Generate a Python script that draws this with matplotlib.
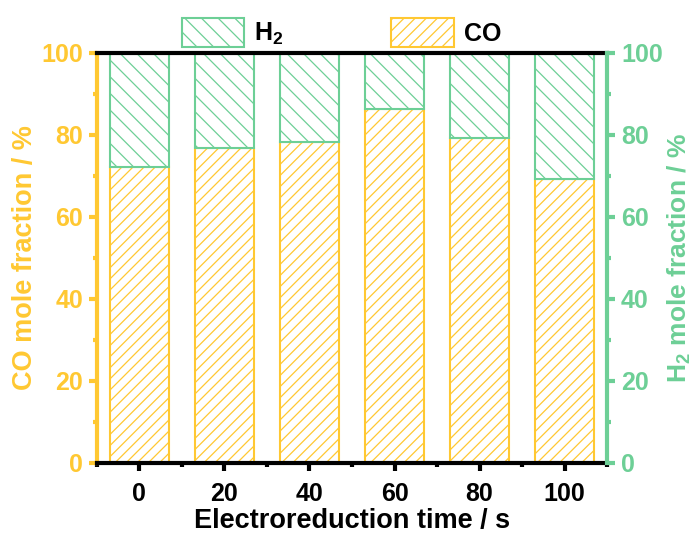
import matplotlib
matplotlib.use("Agg")
import matplotlib.pyplot as plt
from matplotlib.ticker import MultipleLocator
from matplotlib.patches import Patch

plt.rcParams['font.family'] = ['Liberation Sans', 'DejaVu Sans']
plt.rcParams['font.weight'] = 'bold'
plt.rcParams['hatch.linewidth'] = 0.9
plt.rcParams['mathtext.default'] = 'bf'
plt.rcParams['mathtext.fontset'] = 'custom'
plt.rcParams['mathtext.bf'] = 'Liberation Sans:bold'

times = [0, 20, 40, 60, 80, 100]
co_frac = [72.3, 76.8, 78.2, 86.3, 79.2, 69.2]
h2_frac = [100 - v for v in co_frac]

yellow = '#FFC832'
green = '#6DCF96'

fig = plt.figure(figsize=(6.97, 5.35), dpi=100)
ax = fig.add_axes([0.139, 0.1346, 0.732, 0.7664])

w = 14
ax.bar(times, co_frac, width=w, color='white', edgecolor=yellow, hatch='///', linewidth=1.5)
ax.bar(times, h2_frac, width=w, bottom=co_frac, color='white', edgecolor=green, hatch='\\\\', linewidth=1.5)

ax.set_xlim(-10, 110)
ax.set_ylim(0, 100)
ax.set_xticks(times)
ax.xaxis.set_minor_locator(MultipleLocator(10))
ax.yaxis.set_major_locator(MultipleLocator(20))
ax.yaxis.set_minor_locator(MultipleLocator(10))

for side in ['top', 'bottom']:
    ax.spines[side].set_color('black')
    ax.spines[side].set_linewidth(3)
ax.spines['left'].set_color(yellow)
ax.spines['left'].set_linewidth(3)
ax.spines['right'].set_visible(False)

ax.tick_params(axis='x', which='major', direction='out', length=6, width=3, labelsize=18, pad=8)
ax.tick_params(axis='x', which='minor', direction='out', length=3, width=3)
ax.tick_params(axis='y', which='major', direction='out', length=6, width=3, colors=yellow, labelsize=18, pad=4)
ax.tick_params(axis='y', which='minor', direction='out', length=3, width=3, colors=yellow)
ax.set_xlabel('Electroreduction time / s', fontsize=19.5, fontweight='bold', labelpad=1)
ax.set_ylabel('CO mole fraction / %', fontsize=19.5, fontweight='bold', color=yellow, labelpad=2)

ax2 = ax.twinx()
ax2.set_ylim(0, 100)
ax2.yaxis.set_major_locator(MultipleLocator(20))
ax2.yaxis.set_minor_locator(MultipleLocator(10))
for side in ['top', 'bottom', 'left']:
    ax2.spines[side].set_visible(False)
ax2.spines['right'].set_color(green)
ax2.spines['right'].set_linewidth(3)
ax2.tick_params(axis='y', which='major', direction='out', length=6, width=3, colors=green, labelsize=18, pad=4)
ax2.tick_params(axis='y', which='minor', direction='out', length=3, width=3, colors=green)
ax2.set_ylabel('H$_2$ mole fraction / %', fontsize=19, fontweight='bold', color=green, labelpad=2)

for lbl in ax.get_xticklabels() + ax.get_yticklabels() + ax2.get_yticklabels():
    lbl.set_fontweight('bold')

handles = [Patch(facecolor='white', edgecolor=green, hatch='\\\\', linewidth=1.5, label='H$_2$'),
           Patch(facecolor='white', edgecolor=yellow, hatch='///', linewidth=1.5, label='CO')]
fig.legend(handles=handles, loc='lower center', bbox_to_anchor=(0.49, 0.87), ncol=2,
           frameon=False, handlelength=2.5, handleheight=1.4,
           columnspacing=4.3, handletextpad=0.4, prop={'weight': 'bold', 'size': 18})

fig.savefig('out.png', dpi=100)
